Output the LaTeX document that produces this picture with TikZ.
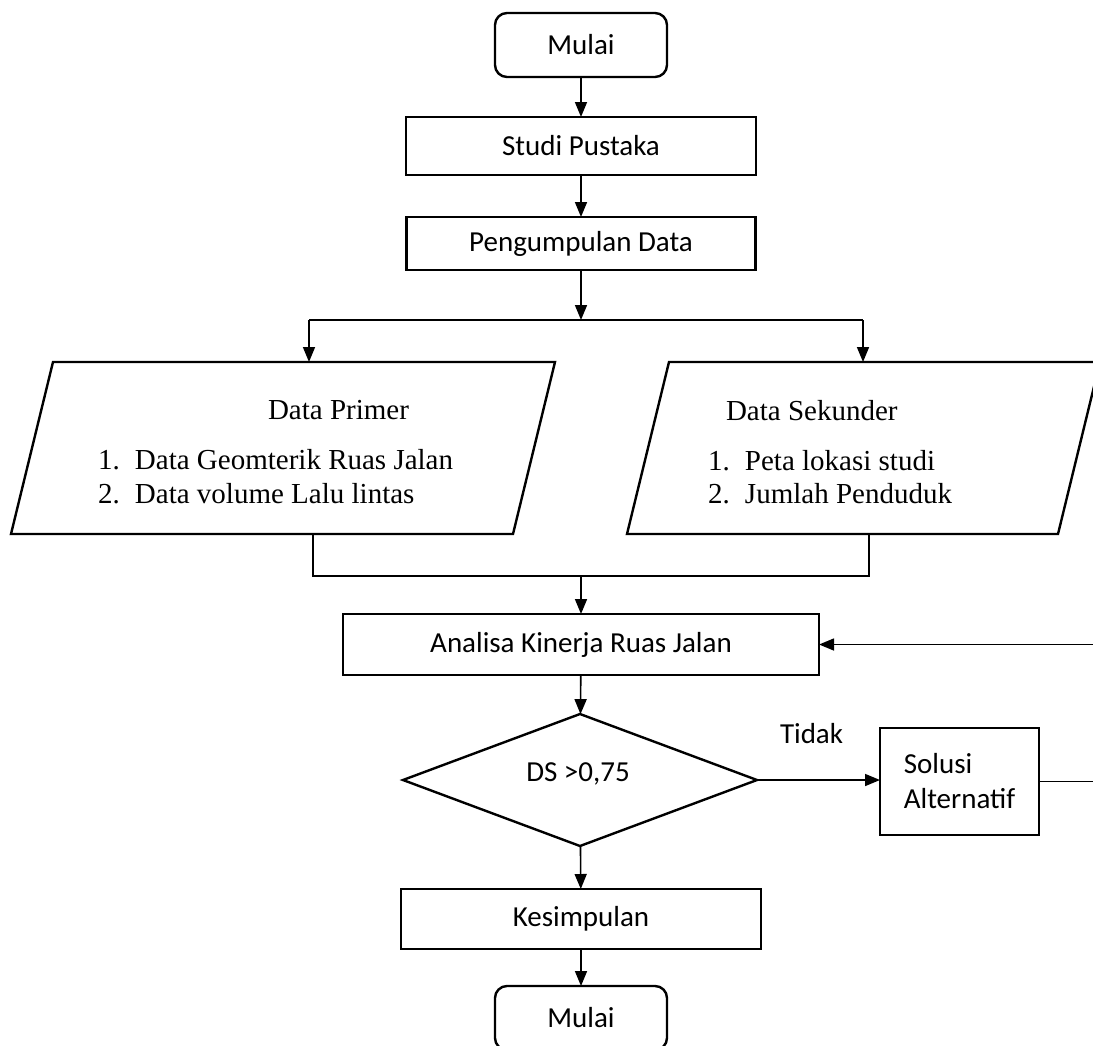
\documentclass[tikz,border=0pt]{standalone}
\usepackage{fontspec}
\setmainfont{Liberation Serif}
\newfontfamily\calfont{Carlito}
\usetikzlibrary{shapes.geometric,arrows.meta}
\begin{document}
\begin{tikzpicture}[x=1pt,y=-1pt,
  every node/.style={inner sep=0pt, outer sep=0pt},
  sfont/.style={font=\calfont\fontsize{29}{35}\selectfont},
  sbox/.style={draw, line width=2.4pt, sfont},
  term/.style={sbox, rounded corners=12pt},
  conn/.style={line width=1.6pt},
  arr/.style={conn, -{Triangle[length=15pt,width=12pt]}},
  para/.style={draw, line width=2.4pt, line join=miter},
  stxt/.style={font=\fontsize{29}{34}\selectfont, anchor=base west},
]
\useasboundingbox (0,0) rectangle (1093,1045);
\clip (0,0) rectangle (1093,1045);

% main column
\node[term, minimum width=172pt, minimum height=64pt] (start) at (581,45) {Mulai};
\node[sbox, minimum width=350pt, minimum height=58pt] (studi) at (581,146) {Studi Pustaka};
\node[sbox, minimum width=349pt, minimum height=53pt] (kumpul) at (581,243.5) {Pengumpulan Data};

\coordinate (split) at (581,320);
\coordinate (splitL) at (309,320);
\coordinate (splitR) at (863,320);

% parallelograms
\coordinate (pLtop) at (309,362);
\coordinate (pLbot) at (313,534);
\coordinate (pRtop) at (863,362);
\coordinate (pRbot) at (869,534);
\draw[para] (11,534) -- (53,362) -- (555,362) -- (513,534) -- cycle;
\draw[para] (627,534) -- (669,362) -- (1100,362) -- (1058,534) -- cycle;

\node[stxt] (prim) at (268,419) {Data Primer};
\node[stxt] (prim1) at (98,469) {\makebox[37pt][l]{1.}Data Geomterik Ruas Jalan};
\node[stxt] (prim2) at (98,503) {\makebox[37pt][l]{2.}Data volume Lalu lintas};
\node[stxt] (sek) at (726,420) {Data Sekunder};
\node[stxt] (sek1) at (708,470) {\makebox[37pt][l]{1.}Peta lokasi studi};
\node[stxt] (sek2) at (708,503) {\makebox[37pt][l]{2.}Jumlah Penduduk};

\coordinate (joinL) at (313,576);
\coordinate (joinR) at (869,576);
\coordinate (join) at (581,576);

\node[sbox, minimum width=476pt, minimum height=61pt] (anal) at (581,644.5) {Analisa Kinerja Ruas Jalan};
\node[draw, diamond, line width=2.4pt, minimum width=354pt, minimum height=132pt] (ds) at (580,780) {};
\node[sfont, anchor=base] (dstext) at (578,781) {DS >0,75};
\node[sfont, anchor=base west] (tidak) at (780,743) {Tidak};
\node[sbox, minimum width=159pt, minimum height=107pt, align=left] (sol) at (959.5,781.5) {Solusi\\Alternatif};
\node[sbox, minimum width=360pt, minimum height=60pt] (kes) at (581,919) {Kesimpulan};
\node[term, minimum width=172pt, minimum height=64pt] (fin) at (581,1018) {Mulai};

\coordinate (fbB) at (1100,781.5);
\coordinate (fbT) at (1100,644.5);

% connectors
\draw[arr] (start) -- (studi);
\draw[arr] (studi) -- (kumpul);
\draw[arr] (kumpul) -- (split);
\draw[conn] (splitL) -- (splitR);
\draw[arr] (splitL) -- (pLtop);
\draw[arr] (splitR) -- (pRtop);
\draw[conn] (pLbot) -- (joinL) -- (joinR) -- (pRbot);
\draw[arr] (join) -- (anal);
\draw[arr] (anal) -- (ds);
\draw[arr] (ds.east) -- (ds.east -| sol.west);
\draw[arr] (ds) -- (kes);
\draw[arr] (kes) -- (fin);
\draw[arr] (sol.east) -- (fbB) -- (fbT) -- (anal.east);
\end{tikzpicture}
\end{document}
